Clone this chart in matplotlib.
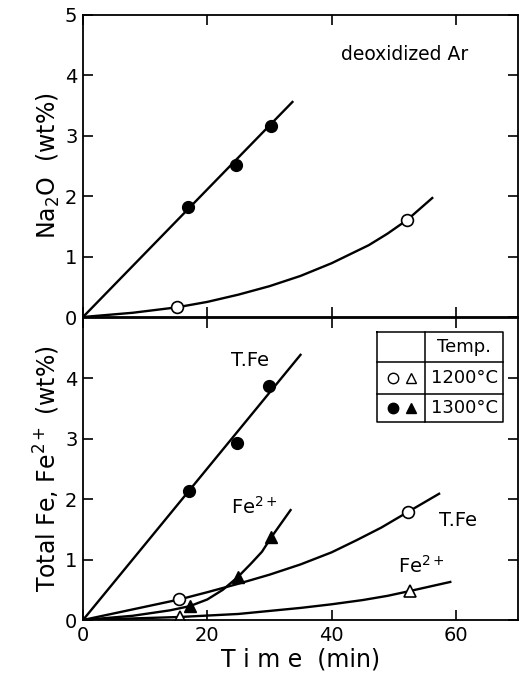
import matplotlib
matplotlib.use("Agg")
import matplotlib.pyplot as plt

# ---- data (time in min, values in wt%) ----
# Na2O, measured points
na_t_1300 = [16.9, 24.7, 30.3]
na_v_1300 = [1.82, 2.52, 3.16]
na_t_1200 = [15.1, 52.2]
na_v_1200 = [0.16, 1.61]
# Na2O, drawn curves
na_fit_t_1300 = [0, 33.7]
na_fit_v_1300 = [0, 3.56]
na_fit_t_1200 = [0, 8, 15.1, 20, 25, 30, 35, 40, 43, 46, 49, 52.2, 56.2]
na_fit_v_1200 = [0, 0.07, 0.16, 0.25, 0.37, 0.51, 0.68, 0.89, 1.04, 1.19, 1.38, 1.61, 1.97]

# Total Fe / Fe2+, measured points
tfe_t_1300 = [17.1, 24.8, 30.0]
tfe_v_1300 = [2.14, 2.93, 3.87]
fe2_t_1300 = [17.2, 24.9, 30.3]
fe2_v_1300 = [0.23, 0.71, 1.37]
tfe_t_1200 = [15.5, 52.3]
tfe_v_1200 = [0.34, 1.79]
fe2_t_1200 = [15.6, 52.6]
fe2_v_1200 = [0.05, 0.48]
# Total Fe / Fe2+, drawn curves
tfe_fit_t_1300 = [0, 35.0]
tfe_fit_v_1300 = [0, 4.39]
fe2_fit_t_1300 = [0, 8, 14, 17.2, 20, 22.5, 24.9, 27, 28.8, 30.3, 33.4]
fe2_fit_v_1300 = [0, 0.07, 0.16, 0.23, 0.34, 0.50, 0.71, 0.93, 1.13, 1.37, 1.82]
tfe_fit_t_1200 = [0, 15.5, 20, 25, 30, 35, 40, 44, 48, 52.3, 57.3]
tfe_fit_v_1200 = [0, 0.34, 0.46, 0.60, 0.75, 0.92, 1.12, 1.32, 1.53, 1.79, 2.09]
fe2_fit_t_1200 = [0, 15.6, 25, 35, 40, 45, 49, 52.6, 59.1]
fe2_fit_v_1200 = [0, 0.05, 0.10, 0.20, 0.26, 0.33, 0.40, 0.48, 0.63]

xticks = [0, 20, 40, 60]

W, H = 519, 681
fig = plt.figure(figsize=(W / 100, H / 100), dpi=100)
ax1 = fig.add_axes([83 / W, 1 - 317 / H, 435 / W, 302 / H])
ax2 = fig.add_axes([83 / W, 1 - 620 / H, 435 / W, 302 / H])

lw = 1.7
ms = 8.5
for ax in (ax1, ax2):
    ax.set_xlim(0, 70)
    ax.set_ylim(0, 5)
    ax.set_xticks(xticks)
    ax.tick_params(direction="in", length=7, width=1.2, top=True, right=True,
                   labelsize=14, pad=4)
    for s in ax.spines.values():
        s.set_linewidth(1.3)

# top panel: Na2O
ax1.plot(na_fit_t_1300, na_fit_v_1300, "k-", lw=lw)
ax1.plot(na_fit_t_1200, na_fit_v_1200, "k-", lw=lw)
ax1.plot(na_t_1300, na_v_1300, "o", mfc="black", mec="black", ms=ms)
ax1.plot(na_t_1200, na_v_1200, "o", mfc="white", mec="black", mew=1.2, ms=ms)
ax1.set_yticks([0, 1, 2, 3, 4, 5])
ax1.set_xticklabels([])
ax1.set_ylabel("Na$_2$O  (wt%)", fontsize=17, labelpad=2)
ax1.text(51.8, 4.34, "deoxidized Ar", fontsize=13.5, ha="center", va="center")

# bottom panel: Total Fe, Fe2+
ax2.plot(tfe_fit_t_1300, tfe_fit_v_1300, "k-", lw=lw)
ax2.plot(fe2_fit_t_1300, fe2_fit_v_1300, "k-", lw=lw)
ax2.plot(tfe_fit_t_1200, tfe_fit_v_1200, "k-", lw=lw)
ax2.plot(fe2_fit_t_1200, fe2_fit_v_1200, "k-", lw=lw)
ax2.plot(tfe_t_1300, tfe_v_1300, "o", mfc="black", mec="black", ms=ms)
ax2.plot(fe2_t_1300, fe2_v_1300, "^", mfc="black", mec="black", ms=ms)
ax2.plot(tfe_t_1200, tfe_v_1200, "o", mfc="white", mec="black", mew=1.2, ms=ms)
ax2.plot(fe2_t_1200, fe2_v_1200, "^", mfc="white", mec="black", mew=1.2, ms=ms)
ax2.set_yticks([0, 1, 2, 3, 4])
ax2.set_ylabel("Total Fe, Fe$^{2+}$ (wt%)", fontsize=17, labelpad=2)
ax2.set_xlabel("T i m e  (min)", fontsize=17, labelpad=2)

ax2.text(26.8, 4.3, "T.Fe", fontsize=14, ha="center", va="center")
ax2.text(27.6, 1.88, "Fe$^{2+}$", fontsize=14, ha="center", va="center")
ax2.text(60.3, 1.65, "T.Fe", fontsize=14, ha="center", va="center")
ax2.text(54.4, 0.9, "Fe$^{2+}$", fontsize=14, ha="center", va="center")

# legend drawn as a small table in axes coordinates
x0, xm, x1 = 0.676, 0.786, 0.966
yt, yr1, yr2, yb = 0.954, 0.854, 0.748, 0.656
tr = ax2.transAxes
for xs, ys in [([x0, x1, x1, x0, x0], [yt, yt, yb, yb, yt]),
               ([xm, xm], [yt, yb]),
               ([x0, x1], [yr1, yr1]),
               ([x0, x1], [yr2, yr2])]:
    ax2.plot(xs, ys, "k-", lw=1.1, transform=tr)
ax2.text((xm + x1) / 2, (yt + yr1) / 2, "Temp.", fontsize=13,
         ha="center", va="center", transform=tr)
ax2.text((xm + x1) / 2, (yr1 + yr2) / 2, "1200°C", fontsize=13,
         ha="center", va="center", transform=tr)
ax2.text((xm + x1) / 2, (yr2 + yb) / 2, "1300°C", fontsize=13,
         ha="center", va="center", transform=tr)
ax2.plot([0.713], [(yr1 + yr2) / 2], "o", mfc="white", mec="black", mew=1,
         ms=7.5, transform=tr)
ax2.plot([0.755], [(yr1 + yr2) / 2], "^", mfc="white", mec="black", mew=1,
         ms=7.5, transform=tr)
ax2.plot([0.713], [(yr2 + yb) / 2], "o", mfc="black", mec="black",
         ms=7.5, transform=tr)
ax2.plot([0.755], [(yr2 + yb) / 2], "^", mfc="black", mec="black",
         ms=7.5, transform=tr)

fig.savefig("out.png", dpi=100)
plt.close(fig)
